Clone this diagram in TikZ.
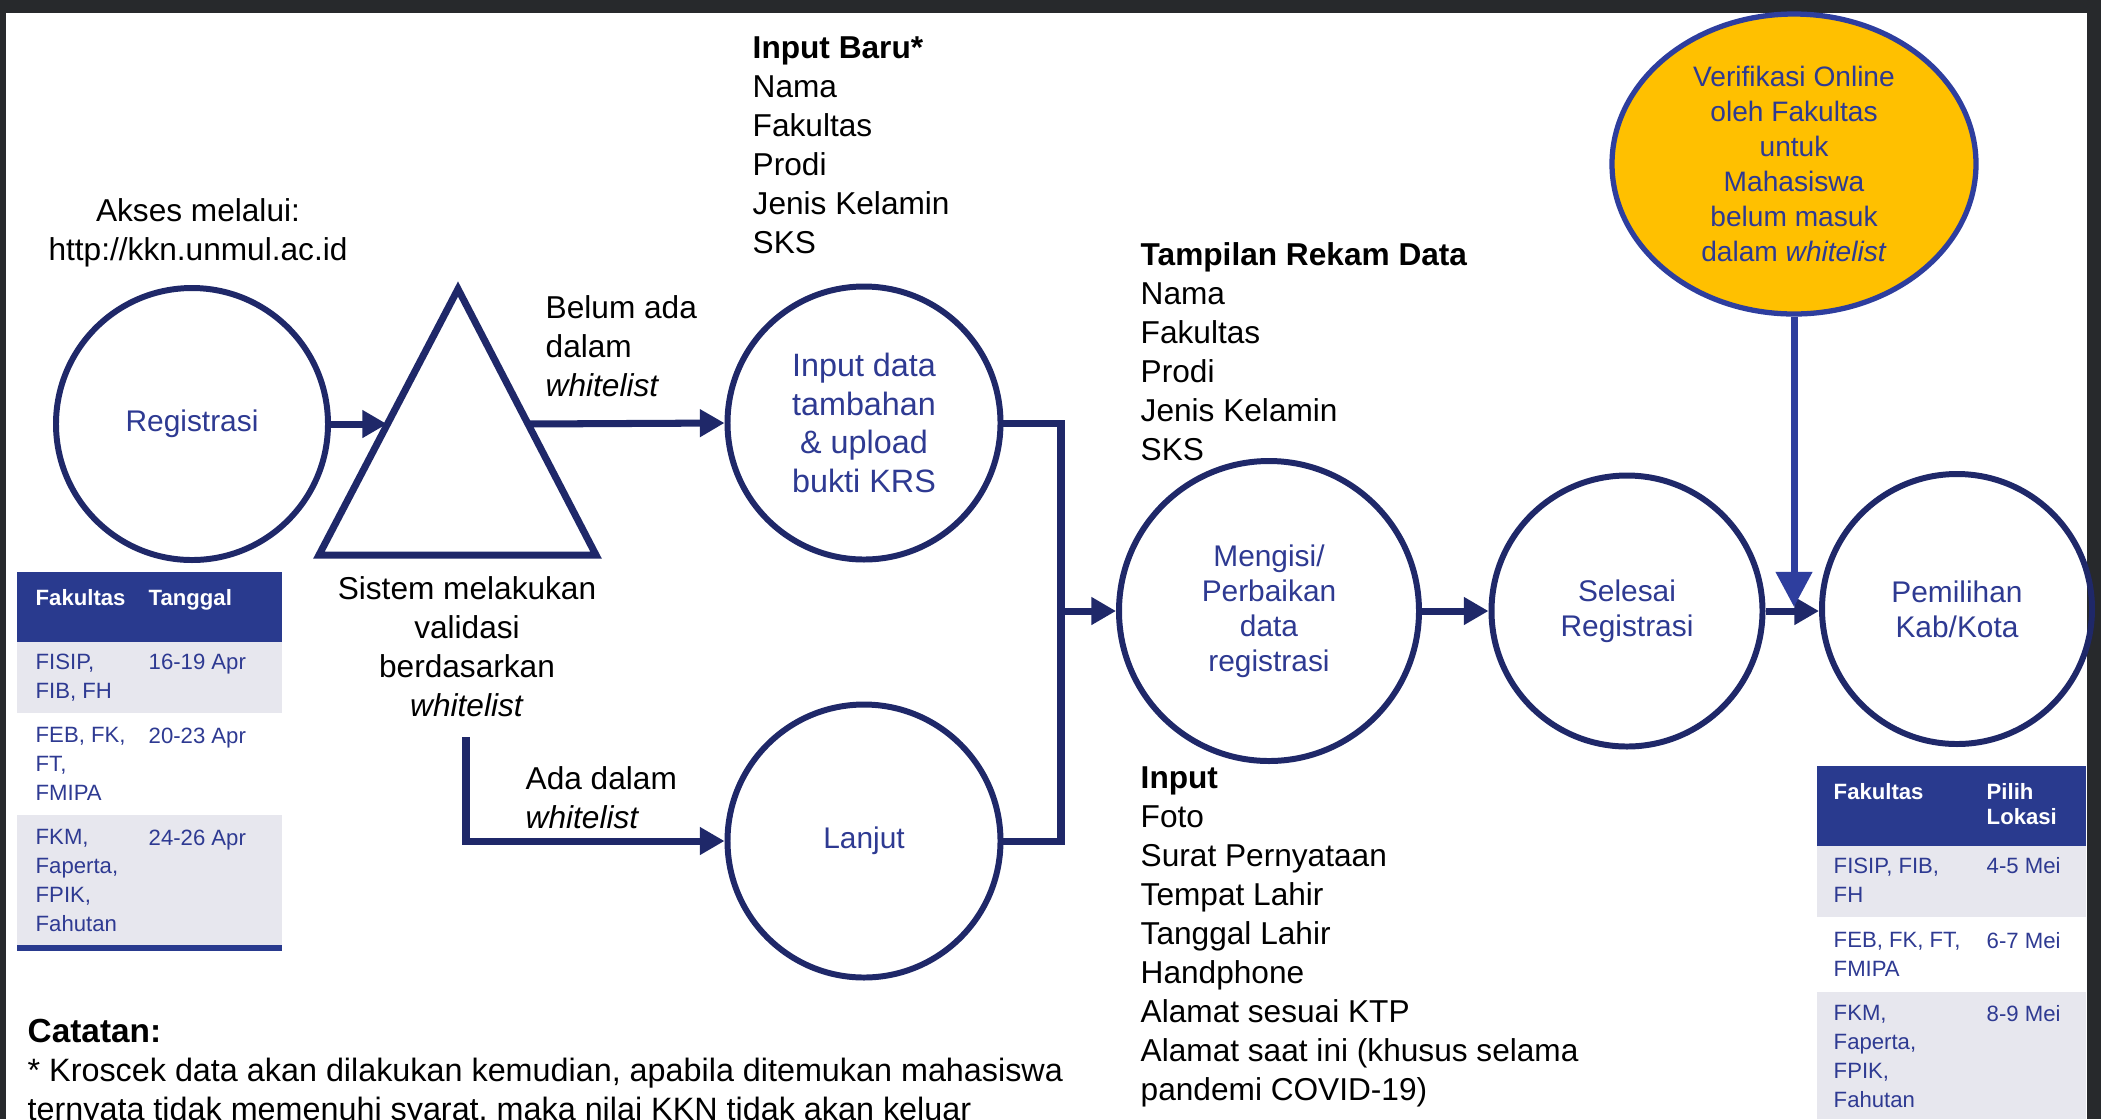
\documentclass[tikz,border=0pt]{standalone}
\usepackage{fontspec}
\setmainfont{Liberation Sans}
\usetikzlibrary{arrows.meta,shapes.geometric}
\definecolor{navy}{HTML}{1F2869}
\definecolor{txtblue}{HTML}{2E3A92}
\definecolor{hdrblue}{HTML}{293A8E}
\definecolor{rowgray}{HTML}{E7E7EE}
\definecolor{gold}{HTML}{FFC000}
\definecolor{ringblue}{HTML}{2E3E9E}
\definecolor{framegray}{HTML}{27292C}
\tikzset{
  stage/.style={circle, draw=navy, line width=1.7pt, align=center, text=txtblue, font=\fontsize{8.5}{10}\selectfont},
  conn/.style={navy, line width=2pt},
  arr/.style={conn, -{Triangle[length=7pt,width=7.5pt]}},
  note/.style={anchor=north west, align=left, inner sep=0pt, font=\fontsize{9}{11.1}\selectfont},
  cell/.style={anchor=north west, align=left, inner sep=0pt, text=txtblue, font=\fontsize{6.3}{8.2}\selectfont},
  head/.style={cell, text=white, font=\fontsize{6.3}{7}\selectfont\bfseries}
}
\begin{document}
\begin{tikzpicture}
\useasboundingbox (0,0) rectangle (21.01,-11.19);
\fill[framegray] (0,0) rectangle (21.01,-11.19);
\fill[white] (0.06,-0.13) rectangle (20.87,-11.19);

\fill[hdrblue] (0.17,-5.72) rectangle (2.82,-6.42);
\fill[rowgray] (0.17,-6.42) rectangle (2.82,-7.13);
\fill[rowgray] (0.17,-8.15) rectangle (2.82,-9.45);
\fill[hdrblue] (0.17,-9.45) rectangle (2.82,-9.51);
\node[head] (tglhead) at (0.35,-5.89) {Fakultas};
\node[head] (tglhead2) at (1.48,-5.89) {Tanggal};
\node[cell] (tgla) at (0.35,-6.53) {FISIP,\\FIB, FH};
\node[cell] (tglb) at (1.48,-6.53) {16-19 Apr};
\node[cell] (tglc) at (0.35,-7.27) {FEB, FK,\\FT,\\FMIPA};
\node[cell] (tgld) at (1.48,-7.27) {20-23 Apr};
\node[cell] (tgle) at (0.35,-8.29) {FKM,\\Faperta,\\FPIK,\\Fahutan};
\node[cell] (tglf) at (1.48,-8.29) {24-26 Apr};

\fill[hdrblue] (18.17,-7.66) rectangle (20.86,-8.46);
\fill[rowgray] (18.17,-8.46) rectangle (20.86,-9.17);
\fill[rowgray] (18.17,-9.92) rectangle (20.86,-11.19);
\node[head] (lokhead) at (18.33,-7.83) {Fakultas};
\node[head] (lokhead2) at (19.86,-7.83) {Pilih\\Lokasi};
\node[cell] (loka) at (18.33,-8.57) {FISIP, FIB,\\FH};
\node[cell] (lokb) at (19.86,-8.57) {4-5 Mei};
\node[cell] (lokc) at (18.33,-9.32) {FEB, FK, FT,\\FMIPA};
\node[cell] (lokd) at (19.86,-9.32) {6-7 Mei};
\node[cell] (loke) at (18.33,-10.05) {FKM,\\Faperta,\\FPIK,\\Fahutan};
\node[cell] (lokf) at (19.86,-10.05) {8-9 Mei};

\node[stage, minimum size=2.72cm] (reg) at (1.92,-4.24) {Registrasi};
\node[stage, minimum size=2.73cm, font=\fontsize{9.2}{11}\selectfont] (inp) at (8.64,-4.23) {Input data\\tambahan\\\& upload\\bukti KRS};
\node[stage, minimum size=2.73cm] (lanjut) at (8.64,-8.41) {Lanjut};
\node[stage, minimum size=3.0cm] (isi) at (12.69,-6.11) {Mengisi/\\Perbaikan\\data\\registrasi};
\node[stage, minimum size=2.71cm] (selesai) at (16.27,-6.11) {Selesai\\Registrasi};
\node[stage, minimum size=2.70cm] (pilih) at (19.57,-6.09) {Pemilihan\\Kab/Kota};
\node[ellipse, draw=ringblue, fill=gold, line width=1.5pt, inner sep=0pt, minimum width=3.64cm, minimum height=3.0cm, align=center, text=txtblue, font=\fontsize{8}{10}\selectfont] (verif) at (17.94,-1.64) {Verifikasi Online\\oleh Fakultas\\untuk\\Mahasiswa\\belum masuk\\dalam \textit{whitelist}};

\coordinate (apex) at (4.58,-2.89);
\coordinate (baseL) at (3.19,-5.55);
\coordinate (baseR) at (5.96,-5.55);
\draw[navy, line width=2pt] (apex) -- (baseL) -- (baseR) -- cycle;
\coordinate (triL) at (3.87,-4.24);
\coordinate (triR) at (5.28,-4.24);
\coordinate (triB) at (4.66,-7.37);
\coordinate (jmid) at (10.61,-6.11);
\coordinate (vtip) at (17.94,-6.07);

\draw[arr] (reg.east) -- (triL);
\draw[arr] (triR) -- (inp.west);
\draw[arr] (triB) |- (lanjut.west);
\draw[conn] (inp.east) -| (jmid) |- (lanjut.east);
\draw[arr] (jmid) -- (isi.west);
\draw[arr] (isi.east) -- (selesai.west);
\draw[arr] (selesai.east) -- (selesai.east -| pilih.west);
\draw[conn, ringblue, -{Triangle[length=10pt,width=10pt]}] (verif.south) -- (vtip);

\node[note, anchor=north, align=center] (akses) at (1.98,-1.98) {Akses melalui:\\http://kkn.unmul.ac.id};
\node[note] (baru) at (7.52,-0.36) {\textbf{Input Baru*}\\Nama\\Fakultas\\Prodi\\Jenis Kelamin\\SKS};
\node[note] (rekam) at (11.40,-2.42) {\textbf{Tampilan Rekam Data}\\Nama\\Fakultas\\Prodi\\Jenis Kelamin\\SKS};
\node[note] (isian) at (11.40,-7.66) {\textbf{Input}\\Foto\\Surat Pernyataan\\Tempat Lahir\\Tanggal Lahir\\Handphone\\Alamat sesuai KTP\\Alamat saat ini (khusus selama\\pandemi COVID-19)};
\node[note] (belum) at (5.45,-2.95) {Belum ada\\dalam\\\textit{whitelist}};
\node[note] (ada) at (5.25,-7.66) {Ada dalam\\\textit{whitelist}};
\node[note, anchor=north, align=center] (sistem) at (4.67,-5.76) {Sistem melakukan\\validasi\\berdasarkan\\\textit{whitelist}};
\node[note, font=\fontsize{9.2}{11.1}\selectfont] (catatan) at (0.27,-10.18) {{\fontsize{9.5}{11}\selectfont\textbf{Catatan:}}\\* Kroscek data akan dilakukan kemudian, apabila ditemukan mahasiswa\\ternyata tidak memenuhi syarat, maka nilai KKN tidak akan keluar};
\end{tikzpicture}
\end{document}
